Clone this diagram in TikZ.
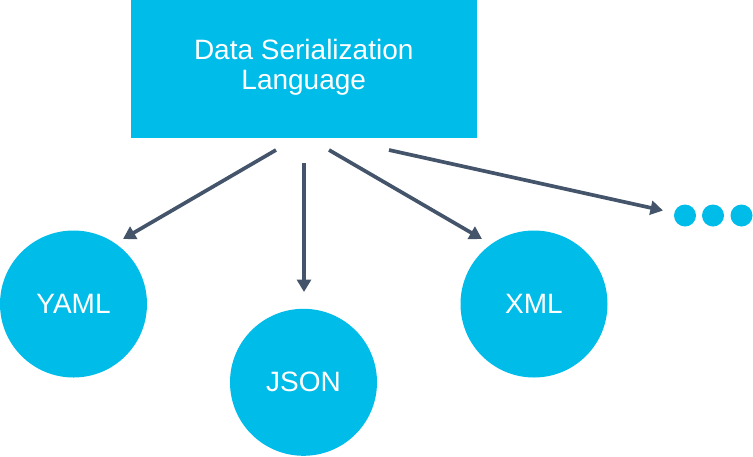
\documentclass[tikz,border=0pt]{standalone}
\usepackage{fontspec}
\setmainfont{Liberation Sans}
\usetikzlibrary{arrows.meta}
\definecolor{cyanfill}{HTML}{00BCE9}
\definecolor{slateline}{HTML}{44546A}
\begin{document}
\begin{tikzpicture}[x=1pt,y=-1pt,
  box/.style={fill=cyanfill,draw=none,minimum width=345.5pt,minimum height=137.5pt,inner sep=0pt,text=white,font=\fontsize{28}{30}\selectfont},
  bubble/.style={circle,fill=cyanfill,draw=none,minimum size=147pt,inner sep=0pt,text=white,font=\fontsize{28}{30}\selectfont},
  dot/.style={circle,fill=cyanfill,draw=none,minimum size=22pt,inner sep=0pt},
  link/.style={draw=slateline,line width=3.7pt,-{Triangle[length=12.5pt,width=14pt]}}]
\useasboundingbox (0,0) rectangle (753,456);
\node[box] (top) at (303.75,68.75) {\raisebox{3pt}{\begin{tabular}{@{}c@{}}Data Serialization\\Language\end{tabular}}};
\node[bubble] (yaml) at (73.5,304) {YAML};
\node[bubble] (json) at (303.5,382.3) {JSON};
\node[bubble] (xml) at (534,304) {XML};
\node[dot] (d1) at (685,215.5) {};
\node[dot] (d2) at (713,215.5) {};
\node[dot] (d3) at (741.5,215.5) {};
\coordinate (s1) at (276,150);
\coordinate (s2) at (304,163);
\coordinate (s3) at (329,150);
\coordinate (s4) at (389,150);
\coordinate (t1) at (123,239);
\coordinate (t2) at (304,292);
\coordinate (t3) at (482,239);
\coordinate (t4) at (663,210.5);
\draw[link] (s1) -- (t1);
\draw[link] (s2) -- (t2);
\draw[link] (s3) -- (t3);
\draw[link] (s4) -- (t4);
\end{tikzpicture}
\end{document}
